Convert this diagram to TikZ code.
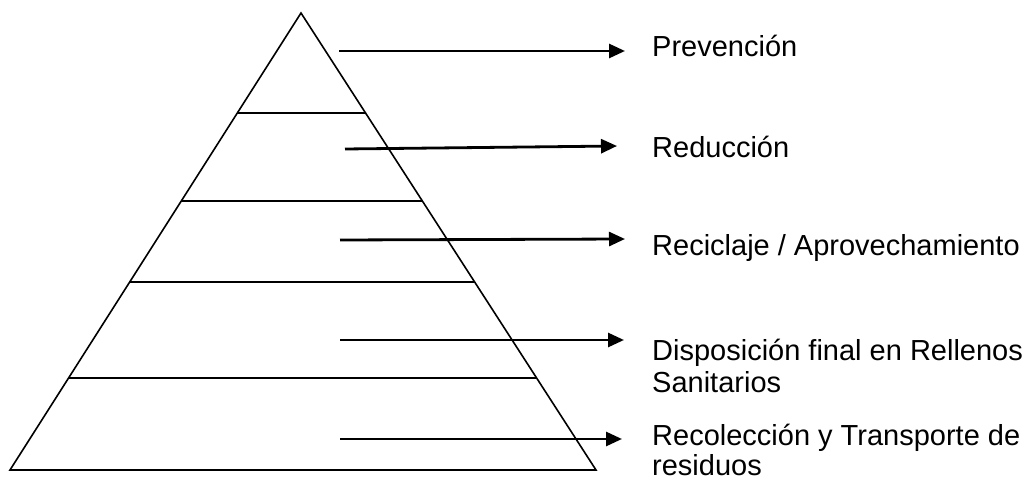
\documentclass[tikz,border=0pt]{standalone}
\usepackage{fontspec}
\setmainfont{Liberation Sans}
\usetikzlibrary{arrows.meta,calc}
\begin{document}
\begin{tikzpicture}[x=1pt,y=-1pt,
  pyr/.style={line width=1.6pt},
  arr/.style={line width=2.8pt,-{Triangle[length=16pt,width=14pt]}},
  lab/.style={anchor=base west,inner sep=0pt,font=\fontsize{29}{33}\selectfont}]
\useasboundingbox (0,0) rectangle (1029,481);
\coordinate (A) at (301,13);
\coordinate (L) at (10,470);
\coordinate (R) at (596,470);
\draw[pyr] (L) -- (A) -- (R) -- cycle;
\foreach \y/\n in {113/a,201/b,282/c,378/d}{
  \path (A) -- (L) coordinate[pos={(\y-13)/457}] (l\n);
  \path (A) -- (R) coordinate[pos={(\y-13)/457}] (r\n);
  \draw[pyr] (l\n) -- (r\n);
}
\coordinate (s1) at (339,51);  \coordinate (e1) at (625,51);
\coordinate (s2) at (345,149); \coordinate (e2) at (617,146);
\coordinate (s3) at (340,240); \coordinate (e3) at (625,239);
\coordinate (s4) at (340,340); \coordinate (e4) at (624,340);
\coordinate (s5) at (340,439); \coordinate (e5) at (622,439);
\foreach \i in {1,...,5}{\draw[arr] (s\i) -- (e\i);}
\node[lab] (t1) at (652,57) {Prevención};
\node[lab] (t2) at (652,158) {Reducción};
\node[lab] (t3) at (652,256) {Reciclaje / Aprovechamiento};
\node[lab] (t4) at (652,360) {Disposición final en Rellenos};
\node[lab] (t4b) at (652,392) {Sanitarios};
\node[lab] (t5) at (652,445) {Recolección y Transporte de};
\node[lab] (t5b) at (652,475) {residuos};
\end{tikzpicture}
\end{document}
